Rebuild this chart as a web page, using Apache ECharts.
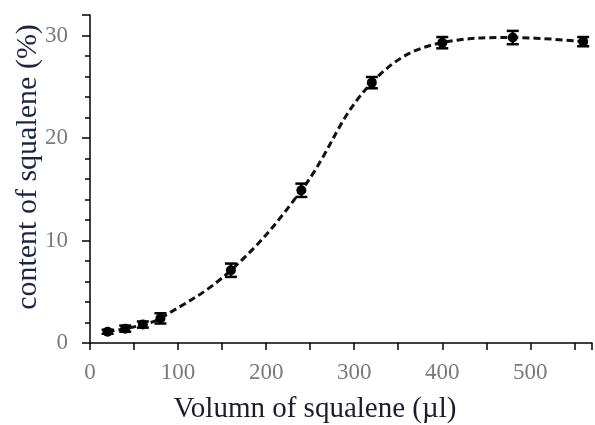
<!DOCTYPE html>
<html><head><meta charset="utf-8">
<script src="https://cdn.jsdelivr.net/npm/echarts@6/dist/echarts.min.js"></script>
<style>html,body{margin:0;padding:0;background:#fff}#c{width:595px;height:425px}</style>
</head><body><div id="c"></div>
<script>
const volumes = [20, 40, 60, 80, 160, 240, 320, 400, 480, 560];
const content = [1.1, 1.4, 1.8, 2.4, 7.1, 14.9, 25.4, 29.3, 29.8, 29.4];
const errors  = [0.2, 0.3, 0.3, 0.5, 0.65, 0.65, 0.55, 0.55, 0.65, 0.45];
const xTicks = [0, 100, 200, 300, 400, 500];
const yTicks = [0, 10, 20, 30];
const xTitle = 'Volumn of squalene (\u00b5l)';
const yTitle = 'content of squalene (%)';

const pts = volumes.map((v, i) => [v, content[i]]);
const errData = volumes.map((v, i) => [v, content[i] - errors[i], content[i] + errors[i]]);
const font = '"Liberation Serif", "Times New Roman", serif';

const chart = echarts.init(document.getElementById('c'), null, {renderer: 'canvas'});
chart.setOption({
  animation: false,
  backgroundColor: '#fff',
  grid: {left: 90, right: 0, top: 15, bottom: 82, containLabel: false},
  xAxis: {
    type: 'value', min: 0, max: 570, interval: 50,
    axisLine: {show: true, lineStyle: {color: '#000', width: 1.5}},
    axisTick: {show: true, length: 7, inside: false, lineStyle: {color: '#000', width: 1.5}},
    axisLabel: {
      color: '#7a7a7a', fontFamily: font, fontSize: 23, margin: 18,
      formatter: v => xTicks.indexOf(v) >= 0 ? String(v) : ''
    },
    splitLine: {show: false}
  },
  yAxis: {
    type: 'value', min: 0, max: 32, interval: 10,
    axisLine: {show: true, lineStyle: {color: '#000', width: 1.5}},
    axisTick: {show: true, length: 8, lineStyle: {color: '#000', width: 1.5}},
    minorTick: {show: true, splitNumber: 5, length: 5, lineStyle: {color: '#000', width: 1.5}},
    axisLabel: {
      color: '#7a7a7a', fontFamily: font, fontSize: 23, margin: 22,
      showMaxLabel: false,
      formatter: v => yTicks.indexOf(v) >= 0 ? String(v) : ''
    },
    splitLine: {show: false}
  },
  graphic: [
    {type: 'text', x: 315, y: 409, style: {text: xTitle, font: '29px ' + font, fill: '#1c1c30', textAlign: 'center', textVerticalAlign: 'middle'}},
    {type: 'text', x: 28, y: 167, rotation: Math.PI / 2, style: {text: yTitle, font: '30px ' + font, fill: '#1c2448', textAlign: 'center', textVerticalAlign: 'middle'}}
  ],
  series: [
    {
      type: 'line', data: pts, smooth: 0.4,
      symbol: 'circle', symbolSize: 10,
      itemStyle: {color: '#000'},
      lineStyle: {color: '#111', width: 3, type: [7, 4]},
      z: 3
    },
    {
      type: 'custom', data: errData, z: 4,
      renderItem: function (params, api) {
        const x = api.value(0);
        const lo = api.coord([x, api.value(1)]);
        const hi = api.coord([x, api.value(2)]);
        const w = 6;
        const st = {stroke: '#000', lineWidth: 2.5};
        return {type: 'group', children: [
          {type: 'line', shape: {x1: lo[0], y1: lo[1], x2: hi[0], y2: hi[1]}, style: st},
          {type: 'line', shape: {x1: lo[0] - w, y1: lo[1], x2: lo[0] + w, y2: lo[1]}, style: st},
          {type: 'line', shape: {x1: hi[0] - w, y1: hi[1], x2: hi[0] + w, y2: hi[1]}, style: st}
        ]};
      }
    }
  ]
});
</script></body></html>
